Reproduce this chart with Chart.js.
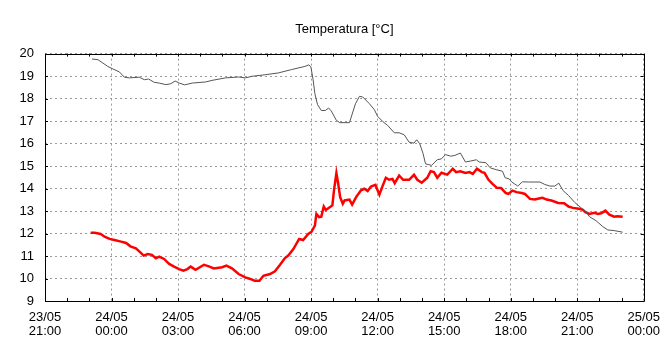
<!DOCTYPE html>
<html>
<head>
<meta charset="utf-8">
<script src="https://cdn.jsdelivr.net/npm/chart.js@4"></script>
<style>
  html, body { margin: 0; padding: 0; background: #fff; }
  #wrap { width: 669px; height: 362px; }
</style>
</head>
<body>
<div id="wrap"><canvas id="tempChart"></canvas></div>
<script>
// ore dall'inizio (23/05 21:00)
const blackHours = [2.12, 2.39, 2.61, 2.83, 3.06, 3.36, 3.58, 3.81, 4.25, 4.48, 4.67, 4.93, 5.15, 5.45, 5.67, 5.87, 6.05, 6.30, 6.64, 7.24, 7.54, 8.14, 8.73, 9.03, 9.33, 9.93, 10.52, 11.12, 11.72, 11.90, 11.99, 12.09, 12.17, 12.29, 12.46, 12.64, 12.79, 12.91, 13.14, 13.29, 13.73, 14.00, 14.18, 14.33, 14.63, 14.85, 15.00, 15.23, 15.45, 15.75, 15.97, 16.20, 16.42, 16.64, 16.76, 16.90, 17.05, 17.16, 17.43, 17.69, 17.88, 18.06, 18.29, 18.48, 18.73, 18.96, 19.18, 19.45, 19.58, 19.88, 20.08, 20.38, 20.63, 20.75, 20.93, 21.05, 21.32, 21.53, 21.80, 22.32, 22.54, 22.77, 22.99, 23.17, 23.36, 23.61, 23.88, 24.18, 24.41, 24.55, 24.85, 25.15, 25.38, 25.67, 26.05];
const blackTemps = [19.76, 19.73, 19.58, 19.43, 19.32, 19.18, 18.95, 18.92, 18.95, 18.84, 18.87, 18.72, 18.69, 18.62, 18.66, 18.78, 18.69, 18.61, 18.69, 18.74, 18.81, 18.92, 18.96, 18.92, 18.99, 19.06, 19.14, 19.29, 19.43, 19.50, 19.41, 18.84, 18.22, 17.73, 17.47, 17.47, 17.58, 17.45, 17.03, 16.93, 16.93, 17.77, 18.10, 18.07, 17.77, 17.51, 17.21, 16.98, 16.81, 16.48, 16.48, 16.39, 16.06, 16.02, 16.17, 15.99, 15.55, 15.10, 15.03, 15.28, 15.32, 15.51, 15.44, 15.47, 15.58, 15.18, 15.22, 15.28, 15.18, 15.15, 14.92, 14.83, 14.77, 14.48, 14.43, 14.29, 14.11, 14.30, 14.29, 14.29, 14.18, 14.11, 14.11, 14.24, 13.91, 13.69, 13.39, 13.14, 12.95, 12.75, 12.57, 12.31, 12.16, 12.13, 12.06];

const redHours = [2.06, 2.24, 2.51, 2.69, 2.91, 3.13, 3.43, 3.66, 3.85, 4.10, 4.25, 4.45, 4.63, 4.82, 5.00, 5.15, 5.37, 5.60, 5.82, 6.05, 6.24, 6.42, 6.57, 6.79, 7.17, 7.39, 7.61, 7.99, 8.18, 8.43, 8.73, 9.03, 9.26, 9.45, 9.67, 9.85, 10.15, 10.37, 10.60, 10.82, 10.97, 11.20, 11.46, 11.64, 11.87, 12.02, 12.17, 12.24, 12.36, 12.46, 12.57, 12.66, 12.84, 12.96, 13.03, 13.14, 13.21, 13.31, 13.43, 13.51, 13.73, 13.85, 14.03, 14.25, 14.40, 14.55, 14.70, 14.90, 15.08, 15.23, 15.37, 15.52, 15.67, 15.77, 15.97, 16.15, 16.42, 16.64, 16.79, 16.99, 17.24, 17.39, 17.54, 17.69, 17.88, 18.14, 18.39, 18.54, 18.73, 18.96, 19.14, 19.29, 19.48, 19.70, 19.82, 20.00, 20.18, 20.38, 20.57, 20.78, 20.90, 21.08, 21.27, 21.50, 21.64, 21.87, 22.09, 22.32, 22.44, 22.62, 22.84, 23.14, 23.41, 23.61, 23.81, 24.08, 24.26, 24.37, 24.55, 24.78, 24.93, 25.08, 25.27, 25.45, 25.67, 25.82, 26.05];
const redTemps = [12.03, 12.03, 11.98, 11.86, 11.76, 11.71, 11.64, 11.58, 11.43, 11.34, 11.21, 11.02, 11.09, 11.05, 10.90, 10.97, 10.87, 10.65, 10.53, 10.42, 10.35, 10.42, 10.53, 10.39, 10.61, 10.54, 10.45, 10.50, 10.57, 10.45, 10.20, 10.05, 9.98, 9.90, 9.90, 10.12, 10.20, 10.32, 10.61, 10.91, 11.02, 11.31, 11.76, 11.71, 11.98, 12.08, 12.35, 12.87, 12.73, 12.75, 13.20, 13.05, 13.17, 13.25, 13.91, 14.69, 14.29, 13.62, 13.32, 13.47, 13.51, 13.29, 13.62, 13.92, 13.99, 13.89, 14.09, 14.16, 13.73, 14.13, 14.48, 14.39, 14.43, 14.24, 14.58, 14.39, 14.39, 14.61, 14.39, 14.26, 14.48, 14.77, 14.73, 14.48, 14.70, 14.62, 14.88, 14.73, 14.77, 14.69, 14.73, 14.65, 14.88, 14.73, 14.70, 14.39, 14.21, 14.03, 14.02, 13.80, 13.76, 13.91, 13.84, 13.80, 13.76, 13.54, 13.51, 13.57, 13.59, 13.51, 13.47, 13.36, 13.35, 13.20, 13.14, 13.10, 13.05, 12.95, 12.87, 12.92, 12.87, 12.90, 13.02, 12.84, 12.75, 12.77, 12.75];

const xTickLabels = [
  ["23/05", "21:00"], ["24/05", "00:00"], ["24/05", "03:00"], ["24/05", "06:00"], ["24/05", "09:00"],
  ["24/05", "12:00"], ["24/05", "15:00"], ["24/05", "18:00"], ["24/05", "21:00"], ["25/05", "00:00"]
];
const yTicks = [9, 10, 11, 12, 13, 14, 15, 16, 17, 18, 19, 20];

// cornice nera + tacche interne
const framePlugin = {
  id: "frame",
  afterDraw(chart) {
    const { ctx, chartArea: a, scales } = chart;
    ctx.save();
    ctx.strokeStyle = "#000";
    ctx.lineWidth = 1;
    ctx.beginPath();
    ctx.rect(Math.round(a.left) + 0.5, Math.round(a.top) + 0.5, Math.round(a.right - a.left), Math.round(a.bottom - a.top));
    for (let h = 0; h <= 27; h++) {
      const x = Math.round(scales.x.getPixelForValue(h)) + 0.5;
      ctx.moveTo(x, a.top); ctx.lineTo(x, a.top + 3);
      ctx.moveTo(x, a.bottom); ctx.lineTo(x, a.bottom - 3);
    }
    yTicks.forEach(v => {
      const y = Math.round(scales.y.getPixelForValue(v)) + 0.5;
      ctx.moveTo(a.left, y); ctx.lineTo(a.left + 3, y);
      ctx.moveTo(a.right, y); ctx.lineTo(a.right - 3, y);
    });
    ctx.stroke();
    ctx.restore();
  }
};

const font = { family: "'Liberation Sans', Arial, sans-serif", size: 13 };

new Chart(document.getElementById("tempChart"), {
  type: "line",
  data: {
    datasets: [
      {
        data: blackHours.map((h, i) => ({ x: h, y: blackTemps[i] })),
        borderColor: "#555555",
        borderWidth: 1,
        pointRadius: 0,
        tension: 0
      },
      {
        data: redHours.map((h, i) => ({ x: h, y: redTemps[i] })),
        borderColor: "#ff0000",
        borderWidth: 2.5,
        pointRadius: 0,
        tension: 0
      }
    ]
  },
  options: {
    responsive: true,
    maintainAspectRatio: false,
    animation: false,
    layout: { padding: { top: 0, right: 21, bottom: 0, left: 0 } },
    plugins: {
      legend: { display: false },
      tooltip: { enabled: false },
      title: {
        display: true,
        fullSize: false,
        text: "Temperatura [°C]",
        color: "#000",
        font: { ...font, weight: "normal", lineHeight: 1.2 },
        padding: { top: 22, bottom: 16 }
      }
    },
    scales: {
      x: {
        type: "linear",
        min: 0,
        max: 27,
        afterFit: s => { s.height = 61; },
        ticks: {
          stepSize: 3,
          color: "#000",
          font: { ...font, lineHeight: 1.1 },
          padding: 9,
          maxRotation: 0,
          callback: v => xTickLabels[v / 3]
        },
        grid: { color: "#999", drawTicks: false },
        border: { display: false, dash: [2, 3] }
      },
      y: {
        min: 9,
        max: 20,
        afterFit: s => { s.width = 45; },
        ticks: { stepSize: 1, color: "#000", font, padding: 11 },
        grid: { color: "#999", drawTicks: false },
        border: { display: false, dash: [2, 3] }
      }
    }
  },
  plugins: [framePlugin]
});
</script>
</body>
</html>
